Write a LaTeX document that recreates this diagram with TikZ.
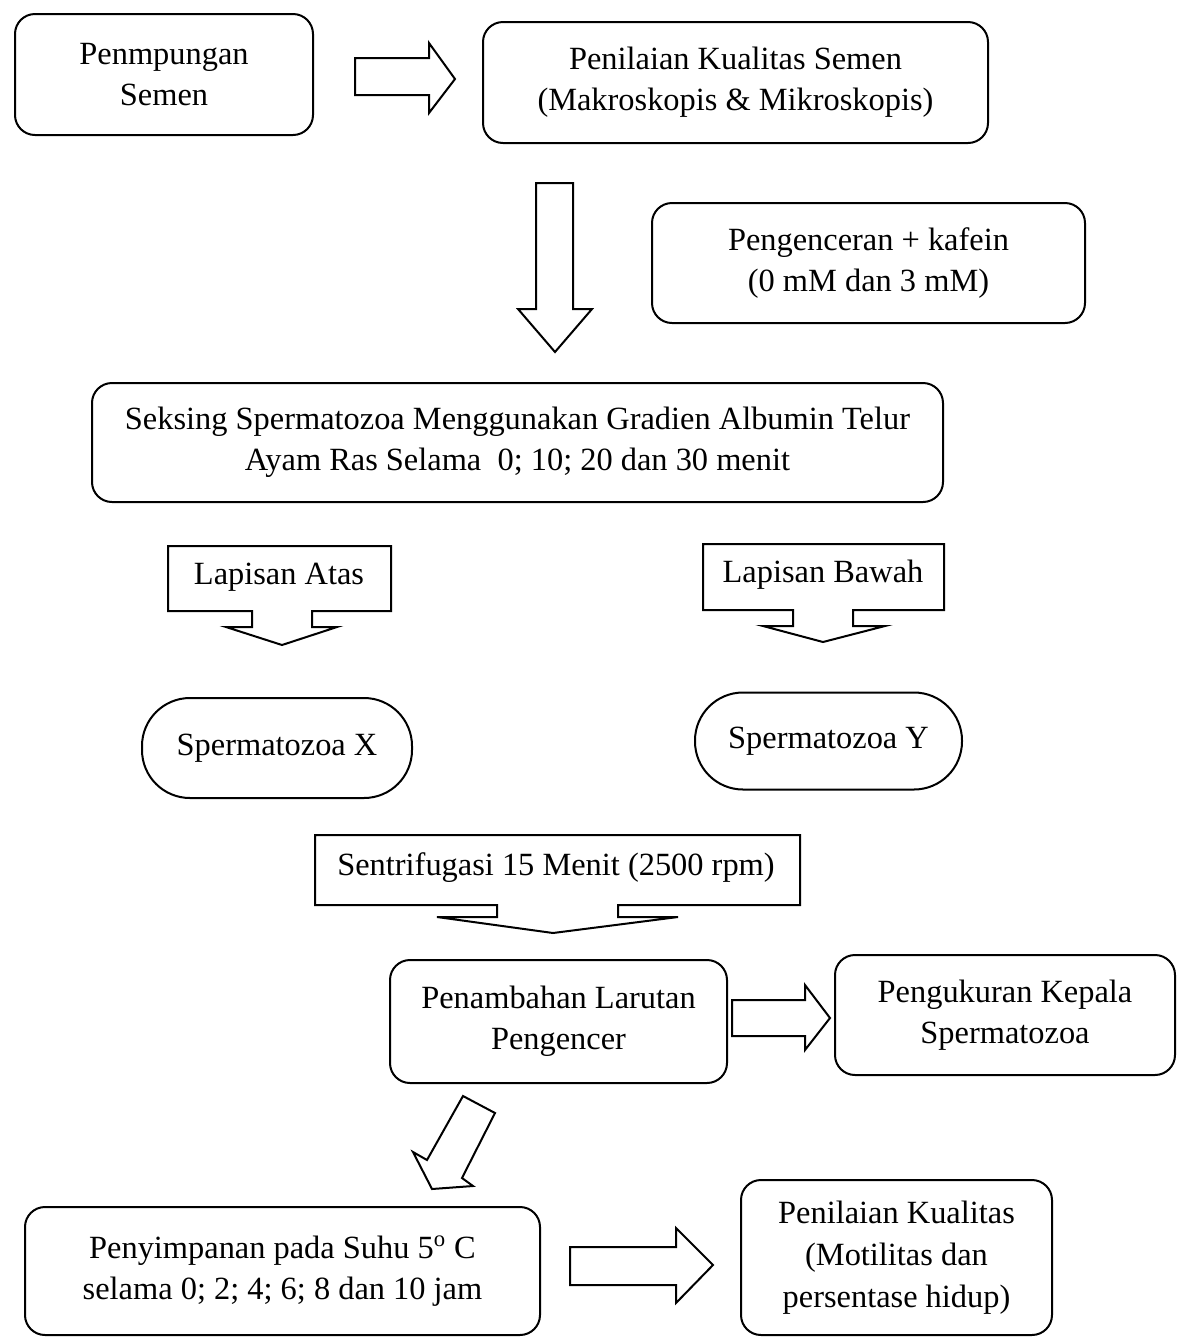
\documentclass[tikz,border=0pt]{standalone}
\usepackage{fontspec}
\setmainfont{Liberation Serif}
\tikzset{
  box/.style={draw, line width=1pt, rounded corners=10pt, align=center, inner sep=0pt, font=\fontsize{16.2}{20.5}\selectfont},
  oval/.style={box, rounded corners=24pt},
  lbl/.style={align=center, inner sep=0pt, font=\fontsize{16.2}{20.5}\selectfont},
  blk/.style={draw, line width=1pt, line join=miter, fill=white},
}
\begin{document}
\begin{tikzpicture}[x=0.5pt,y=-0.5pt]
\useasboundingbox (0,0) rectangle (1178,1340);
% boxes
\node[box, minimum width=149pt, minimum height=60.5pt] (b1) at (164,74.5) {Penmpungan\\Semen};
\node[box, minimum width=252.5pt, minimum height=60.5pt] (b2) at (735.5,82.5) {Penilaian Kualitas Semen\\(Makroskopis \& Mikroskopis)};
\node[box, minimum width=216.5pt, minimum height=60pt] (b3) at (868.5,263) {Pengenceran + kafein\\(0 mM dan 3 mM)};
\node[box, minimum width=425.5pt, minimum height=59.5pt] (b4) at (517.5,442.5) {Seksing Spermatozoa Menggunakan Gradien Albumin Telur\\Ayam Ras Selama\ \ 0; 10; 20 dan 30 menit};
\node[oval, minimum width=135pt, minimum height=50pt] (spx) at (277,748) {Spermatozoa X};
\node[oval, minimum width=133.5pt, minimum height=48.5pt] (spy) at (828.5,741) {Spermatozoa Y};
\node[box, minimum width=168.5pt, minimum height=61.5pt] (b10) at (558.5,1021.5) {Penambahan Larutan\\Pengencer};
\node[box, minimum width=170pt, minimum height=60pt] (b11) at (1005,1015) {Pengukuran Kepala\\Spermatozoa};
\node[box, minimum width=257.5pt, minimum height=64pt] (b12) at (282.5,1271) {Penyimpanan pada Suhu 5\textsuperscript{o} C\\selama 0; 2; 4; 6; 8 dan 10 jam};
\node[box, minimum width=155.5pt, minimum height=77.5pt, font=\fontsize{16.2}{21}\selectfont] (b13) at (896.5,1257.5) {Penilaian Kualitas\\(Motilitas dan\\persentase hidup)};
% callouts
\draw[blk] (168,546) -- (391,546) -- (391,611) -- (312,611) -- (312,627) -- (337,627) -- (282,645) -- (226,627) -- (252,627) -- (252,611) -- (168,611) -- cycle;
\node[lbl] (la) at (279,577) {Lapisan Atas};
\draw[blk] (703,544) -- (944,544) -- (944,610) -- (853,610) -- (853,626) -- (885,626) -- (823,642) -- (763,626) -- (793,626) -- (793,610) -- (703,610) -- cycle;
\node[lbl] (lb) at (823,575) {Lapisan Bawah};
\draw[blk] (315,835) -- (800,835) -- (800,905) -- (618,905) -- (618,917) -- (678,917) -- (553,933) -- (437,917) -- (497,917) -- (497,905) -- (315,905) -- cycle;
\node[lbl] (sf) at (556,868) {Sentrifugasi 15 Menit (2500 rpm)};
% block arrows
\draw[blk] (355,58) -- (429,58) -- (429,43) -- (455,79) -- (429,113) -- (429,95) -- (355,95) -- cycle;
\draw[blk] (536,183) -- (573,183) -- (573,309) -- (592,309) -- (555,352) -- (518,309) -- (536,309) -- cycle;
\draw[blk] (732,1000) -- (805,1000) -- (805,985) -- (830,1018) -- (805,1050) -- (805,1036) -- (732,1036) -- cycle;
\draw[blk] (463,1096) -- (495,1113) -- (462,1178) -- (473,1186) -- (432,1189) -- (413,1152) -- (427,1160) -- cycle;
\draw[blk] (570,1247) -- (676,1247) -- (676,1228) -- (713,1265) -- (676,1303) -- (676,1285) -- (570,1285) -- cycle;
\end{tikzpicture}
\end{document}
